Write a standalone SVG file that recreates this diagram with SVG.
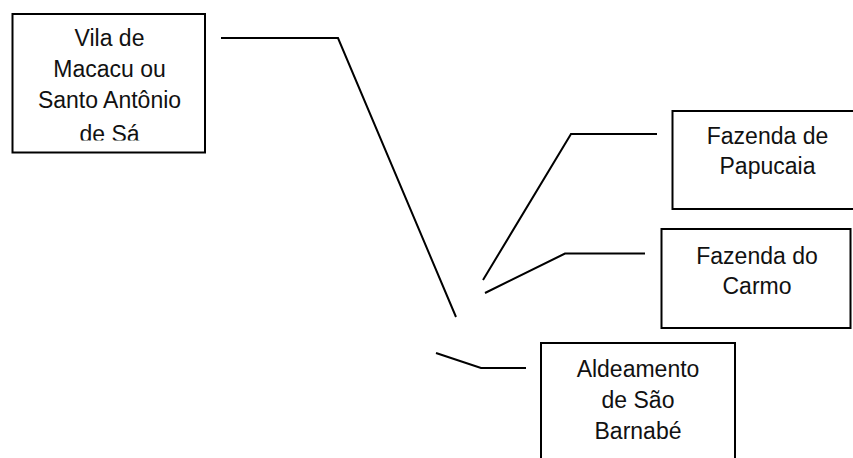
<svg xmlns="http://www.w3.org/2000/svg" width="853" height="458" viewBox="0 0 853 458">
  <defs>
    <style>
      .box { fill: #ffffff; stroke: #000000; stroke-width: 2; }
      .lbl { font-family: "Liberation Sans", Arial, sans-serif; font-size: 23px; fill: #111111; text-anchor: middle; }
      .link { fill: none; stroke: #000000; stroke-width: 2; stroke-linejoin: miter; }
    </style>
    <!-- the last line of the first box is cut at its baseline -->
    <clipPath id="clip-vila">
      <rect x="12" y="14" width="194" height="126.5"/>
    </clipPath>
  </defs>
  <rect width="853" height="458" fill="#ffffff"/>

  <g id="connectors">
    <polyline class="link" points="221,38 338,38 456,317"/>
    <polyline class="link" points="483,280 571,134 657,134"/>
    <polyline class="link" points="485,293 565,253.5 645,253.5"/>
    <polyline class="link" points="436,353 481,368 526,368"/>
  </g>

  <g id="vila-de-macacu">
    <rect class="box" x="12.5" y="14" width="192.5" height="138.5"/>
    <g clip-path="url(#clip-vila)">
      <text class="lbl" x="109.5" y="46">Vila de</text>
      <text class="lbl" x="109.5" y="77">Macacu ou</text>
      <text class="lbl" x="109.5" y="108">Santo Antônio</text>
      <text class="lbl" x="109.5" y="141.5">de Sá</text>
    </g>
  </g>

  <g id="fazenda-papucaia">
    <rect class="box" x="672.5" y="111" width="192" height="98"/>
    <text class="lbl" x="767.5" y="143.5">Fazenda de</text>
    <text class="lbl" x="767.5" y="173.5">Papucaia</text>
  </g>

  <g id="fazenda-carmo">
    <rect class="box" x="661.5" y="229" width="189" height="99"/>
    <text class="lbl" x="757" y="263.5">Fazenda do</text>
    <text class="lbl" x="757" y="294">Carmo</text>
  </g>

  <g id="aldeamento-sao-barnabe">
    <rect class="box" x="541" y="343" width="194" height="130"/>
    <text class="lbl" x="638" y="377">Aldeamento</text>
    <text class="lbl" x="638" y="408">de São</text>
    <text class="lbl" x="638" y="439">Barnabé</text>
  </g>
</svg>
